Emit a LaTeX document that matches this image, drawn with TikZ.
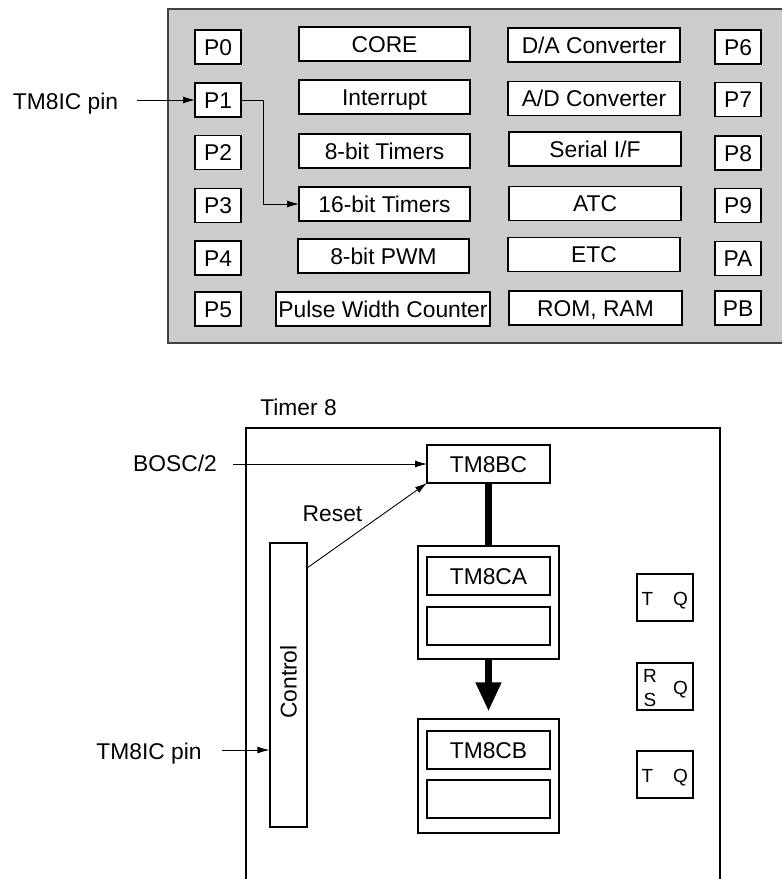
\documentclass[tikz,border=0pt]{standalone}
\usepackage{fontspec}
\setmainfont{Liberation Sans}
\usetikzlibrary{arrows.meta}
\definecolor{panelgray}{HTML}{CCCCCC}
\definecolor{edgegray}{HTML}{404040}
\begin{document}
\begin{tikzpicture}[x=1pt,y=-1pt,
  font=\fontsize{22.8}{26}\selectfont,
  line width=1.1pt,
  box/.style={draw=black, fill=white, inner sep=0pt, outer sep=0pt, minimum height=34pt, text height=16.4pt, text depth=0pt},
  pbox/.style={box, minimum width=46pt},
  plain/.style={inner sep=0pt, outer sep=0pt, text height=16.4pt, text depth=0pt},
  arr/.style={-{Latex[length=12pt,width=7pt]}, line width=0.9pt},
  ffbox/.style={draw=black, fill=white, inner sep=0pt, minimum width=56pt, minimum height=47pt},
  fftext/.style={inner sep=0pt, font=\fontsize{19}{21}\selectfont, text height=13.6pt, text depth=0pt},
  thick8/.style={line width=7pt}
]
\useasboundingbox (0,0) rectangle (782,879);

% ---------- top panel ----------
\fill[panelgray] (168,9) rectangle (784,343);
\draw[edgegray] (784,9) -- (168,9) -- (168,343) -- (784,343);

% left pins
\node[pbox] (p0) at (218,47) {P0};
\node[pbox] (p1) at (218,100) {P1};
\node[pbox] (p2) at (218,152.5) {P2};
\node[pbox] (p3) at (218,205.5) {P3};
\node[pbox] (p4) at (218,258) {P4};
\node[pbox] (p5) at (218,309) {P5};

% column 2
\node[box, minimum width=171pt] (core) at (384.5,44) {CORE};
\node[box, minimum width=171pt] (intr) at (384.5,97) {Interrupt};
\node[box, minimum width=171pt] (t8) at (384.5,151) {8-bit Timers};
\node[box, minimum width=171pt] (t16) at (384.5,204) {16-bit Timers};
\node[box, minimum width=171pt] (pwm) at (383.5,256) {8-bit PWM};
\node[box, minimum width=214pt] (pwc) at (383,309) {Pulse Width Counter};

% column 3
\node[box, minimum width=172pt] (da) at (594,45) {D/A Converter};
\node[box, minimum width=172pt] (ad) at (594,98.5) {A/D Converter};
\node[box, minimum width=172pt] (sif) at (595,149) {Serial I/F};
\node[box, minimum width=172pt] (atc) at (595,203.5) {ATC};
\node[box, minimum width=172pt] (etc) at (594,254.5) {ETC};
\node[box, minimum width=173pt] (rom) at (595.5,308) {ROM, RAM};

% right pins
\node[pbox] (p6) at (738,47) {P6};
\node[pbox] (p7) at (738,99.5) {P7};
\node[pbox] (p8) at (738,153) {P8};
\node[pbox] (p9) at (738,205.5) {P9};
\node[pbox] (pa) at (738,258.5) {PA};
\node[pbox] (pb) at (738,308) {PB};

% TM8IC pin (top)
\node[plain] (pintop) at (65.5,101.5) {TM8IC pin};
\coordinate (pintopc) at (137,100);
\draw[arr] (pintopc) -- (p1.west);
\draw[arr] (p1.east) -- (263,100) |- (t16.west);

% ---------- Timer 8 ----------
\node[plain] (tlabel) at (298.5,407) {Timer 8};
\draw (246,880) -- (246,428) -- (720,428) -- (720,880);

\node[box, minimum width=123pt, minimum height=38pt] (bc) at (488.5,464) {TM8BC};
\node[plain] (bosc) at (175,463) {BOSC/2};
\coordinate (boscc) at (233,464);
\draw[arr] (boscc) -- (bc.west);

\node[draw=black, fill=white, inner sep=0pt, minimum width=37pt, minimum height=284pt] (ctrl) at (288.5,685) {};
\node[plain, rotate=90] (ctrltext) at (288.5,682) {Control};

\node[plain] (reset) at (332.5,513) {Reset};
\coordinate (resetc) at (307,568);
\draw[arr] (resetc) -- (bc.south west);

\node[plain] (pinbot) at (149,751) {TM8IC pin};
\coordinate (pinbotc) at (222,750);
\draw[arr] (pinbotc) -- (pinbotc -| ctrl.west);

% TM8CA group
\node[draw=black, fill=white, inner sep=0pt, minimum width=141pt, minimum height=113pt] (caout) at (488.5,602.5) {};
\node[box, minimum width=123pt, minimum height=38pt] (ca) at (488.5,576) {TM8CA};
\node[box, minimum width=123pt, minimum height=38pt] (caempty) at (488.5,626) {};

% TM8CB group
\node[draw=black, fill=white, inner sep=0pt, minimum width=141pt, minimum height=114pt] (cbout) at (488.5,776) {};
\node[box, minimum width=123pt, minimum height=38pt] (cb) at (488.5,750) {TM8CB};
\node[box, minimum width=123pt, minimum height=38pt] (cbempty) at (488.5,799) {};

% thick connectors
\draw[thick8] (bc.south) -- (caout.north);
\draw[thick8, -{Triangle[length=29pt,width=24pt]}] (caout.south) -- ([yshift=7pt]cbout.north);

% flip-flops
\node[ffbox] (ff1) at (665,597.5) {};
\node[fftext] (ff1t) at (647.5,598.5) {T};
\node[fftext] (ff1q) at (680.5,598.5) {Q};

\node[ffbox] (ff2) at (665,686.5) {};
\node[fftext] (ff2r) at (650,676) {R};
\node[fftext] (ff2s) at (650,700) {S};
\node[fftext] (ff2q) at (680.5,687.5) {Q};

\node[ffbox] (ff3) at (665,774.5) {};
\node[fftext] (ff3t) at (647.5,775.5) {T};
\node[fftext] (ff3q) at (680.5,775.5) {Q};
\end{tikzpicture}
\end{document}
